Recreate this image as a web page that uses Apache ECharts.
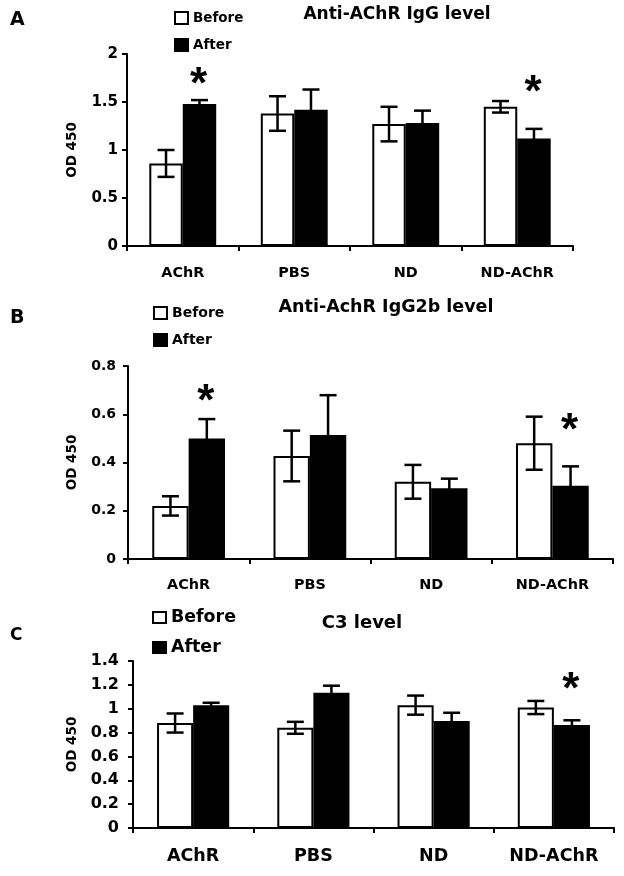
<!DOCTYPE html>
<html><head><meta charset="utf-8">
<script src="https://cdn.jsdelivr.net/npm/echarts@6/dist/echarts.min.js"></script>
<style>html,body{margin:0;padding:0;background:#fff}#c{width:624px;height:876px}</style>
</head><body><div id="c"></div>
<script>
const categories = ['AChR', 'PBS', 'ND', 'ND-AChR'];

// Panel A: Anti-AChR IgG level
const aBefore = [0.86, 1.38, 1.27, 1.45];
const aBeforeErr = [0.14, 0.18, 0.18, 0.06];
const aAfter = [1.48, 1.42, 1.28, 1.12];
const aAfterErr = [0.04, 0.21, 0.13, 0.10];
const aStars = [[0, 1.75], [3, 1.66]];

// Panel B: Anti-AchR IgG2b level
const bBefore = [0.22, 0.427, 0.32, 0.48];
const bBeforeErr = [0.04, 0.105, 0.07, 0.11];
const bAfter = [0.50, 0.514, 0.293, 0.304];
const bAfterErr = [0.08, 0.165, 0.04, 0.08];
const bStars = [[0, 0.68], [3, 0.56]];

// Panel C: C3 level
const cBefore = [0.88, 0.84, 1.03, 1.01];
const cBeforeErr = [0.08, 0.05, 0.08, 0.055];
const cAfter = [1.03, 1.133, 0.896, 0.863];
const cAfterErr = [0.02, 0.06, 0.07, 0.04];
const cStars = [[3, 1.21]];

const FONT = '"DejaVu Sans", Verdana, sans-serif';
const STARFONT = '"Liberation Sans", Arial, sans-serif';
const chart = echarts.init(document.getElementById('c'), null, {renderer: 'canvas'});

const panels = [
  {grid: {left: 127, right: 51, top: 54, bottom: 630}, max: 2, interval: 0.5, yFont: 15, yMargin: 9, xFont: 14.4, xMargin: 20, nameGap: 48, nameFont: 13.5,
   before: aBefore, beforeErr: aBeforeErr, after: aAfter, afterErr: aAfterErr, stars: aStars},
  {grid: {left: 128, right: 11, top: 366, bottom: 317}, max: 0.8, interval: 0.2, yFont: 14, yMargin: 12, xFont: 14.4, xMargin: 19, nameGap: 49, nameFont: 13.5,
   before: bBefore, beforeErr: bBeforeErr, after: bAfter, afterErr: bAfterErr, stars: bStars},
  {grid: {left: 133, right: 10, top: 661, bottom: 48}, max: 1.4, interval: 0.2, yFont: 16, yMargin: 14, xFont: 17.5, xMargin: 19, nameGap: 54, nameFont: 13.5,
   before: cBefore, beforeErr: cBeforeErr, after: cAfter, afterErr: cAfterErr, stars: cStars}
];

const grids = [], xAxes = [], yAxes = [], series = [];
const axisLine = {show: true, lineStyle: {color: '#000', width: 2}};
panels.forEach((p, i) => {
  grids.push(p.grid);
  xAxes.push({type: 'category', gridIndex: i, data: categories, boundaryGap: true,
    axisLine: axisLine, axisTick: {show: true, length: 5, lineStyle: {color: '#000', width: 2}},
    axisLabel: {color: '#000', fontFamily: FONT, fontWeight: 'bold', fontSize: p.xFont, margin: p.xMargin},
    splitLine: {show: false}});
  yAxes.push({type: 'value', gridIndex: i, min: 0, max: p.max, interval: p.interval,
    name: 'OD 450', nameLocation: 'middle', nameGap: p.nameGap,
    nameTextStyle: {color: '#000', fontFamily: FONT, fontWeight: 'bold', fontSize: p.nameFont},
    axisLine: axisLine, axisTick: {show: true, length: 5, lineStyle: {color: '#000', width: 2}},
    axisLabel: {color: '#000', fontFamily: FONT, fontWeight: 'bold', fontSize: p.yFont, margin: p.yMargin},
    splitLine: {show: false}});
  series.push({name: 'Before', type: 'bar', xAxisIndex: i, yAxisIndex: i, data: p.before,
    barCategoryGap: '40%', barGap: '0%',
    itemStyle: {color: '#fff', borderColor: '#000', borderWidth: 2}});
  series.push({name: 'After', type: 'bar', xAxisIndex: i, yAxisIndex: i, data: p.after,
    barCategoryGap: '40%', barGap: '0%',
    itemStyle: {color: '#000', borderColor: '#000', borderWidth: 2}});
  const errData = [];
  p.before.forEach((v, k) => errData.push([k, v, p.beforeErr[k], -1]));
  p.after.forEach((v, k) => errData.push([k, v, p.afterErr[k], 1]));
  series.push({type: 'custom', xAxisIndex: i, yAxisIndex: i, z: 5, silent: true, data: errData,
    renderItem: function (params, api) {
      const k = api.value(0), v = api.value(1), e = api.value(2), side = api.value(3);
      const catW = api.size([1, 0])[0];
      const c = api.coord([k, v]);
      const x = c[0] + side * catW * 0.15;
      const yt = api.coord([k, v + e])[1];
      const yb = api.coord([k, v - e])[1];
      const hw = 8.5;
      const st = {stroke: '#000', lineWidth: 2.5};
      return {type: 'group', children: [
        {type: 'line', shape: {x1: x, y1: yt, x2: x, y2: yb}, style: st},
        {type: 'line', shape: {x1: x - hw, y1: yt, x2: x + hw, y2: yt}, style: st},
        {type: 'line', shape: {x1: x - hw, y1: yb, x2: x + hw, y2: yb}, style: st}
      ]};
    }});
  series.push({type: 'custom', xAxisIndex: i, yAxisIndex: i, z: 6, silent: true, data: p.stars,
    renderItem: function (params, api) {
      const k = api.value(0), y = api.value(1);
      const catW = api.size([1, 0])[0];
      const c = api.coord([k, y]);
      const fs = 44;
      return {type: 'text', x: c[0] + catW * 0.15 - 1, y: c[1] + fs * 0.17,
        style: {text: '*', fill: '#000', font: 'bold ' + fs + 'px ' + STARFONT, textAlign: 'center', textVerticalAlign: 'middle'}};
    }});
});

const legendText = (fs, lh) => ({color: '#000', fontFamily: FONT, fontWeight: 'bold', fontSize: fs, lineHeight: lh});
const legendBase = {orient: 'vertical', icon: 'rect', padding: 0, itemWidth: 13, itemHeight: 12,
  itemStyle: {borderWidth: 2}, data: ['Before', 'After'], selectedMode: false};
const legends = [
  Object.assign({}, legendBase, {left: 174, top: 11, itemGap: 13, textStyle: legendText(13.5, 14)}),
  Object.assign({}, legendBase, {left: 153, top: 306, itemGap: 13, textStyle: legendText(14, 14)}),
  Object.assign({}, legendBase, {left: 152, top: 609, itemHeight: 11, itemGap: 13, textStyle: legendText(17.4, 17)})
];

const txt = (x, y, text, size, align) => ({type: 'text', x: x, y: y,
  style: {text: text, fill: '#000', font: 'bold ' + size + 'px ' + FONT, textAlign: align || 'left', textVerticalAlign: 'middle'}});

chart.setOption({
  animation: false,
  backgroundColor: '#fff',
  grid: grids, xAxis: xAxes, yAxis: yAxes, legend: legends, series: series,
  graphic: [
    txt(10, 20, 'A', 19),
    txt(397, 15, 'Anti-AChR IgG level', 17, 'center'),
    txt(10, 318, 'B', 19),
    txt(386, 307, 'Anti-AchR IgG2b level', 17.5, 'center'),
    txt(10, 636, 'C', 17),
    txt(362, 623, 'C3 level', 18, 'center')
  ]
});
</script></body></html>
